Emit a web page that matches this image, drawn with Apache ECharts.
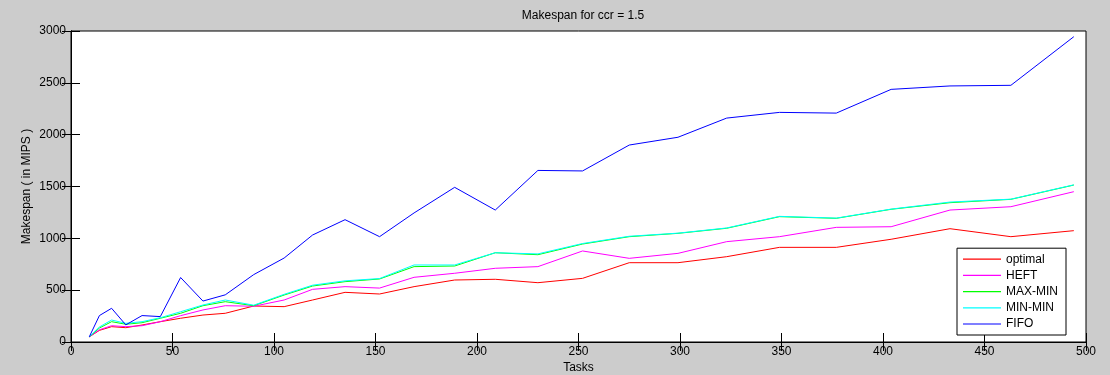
<!DOCTYPE html>
<html>
<head>
<meta charset="utf-8">
<style>
  html, body { margin: 0; padding: 0; background: #cccccc; }
  #chart { width: 1110px; height: 375px; }
</style>
<script src="https://cdn.jsdelivr.net/npm/echarts@6/dist/echarts.min.js"></script>
</head>
<body>
<div id="chart"></div>
<script>
// Number of tasks in each workflow run
const tasks = [9, 14, 20, 27, 35, 44, 54, 65, 76, 90, 105, 119, 135, 152, 169, 189, 209, 230, 252, 275, 299, 323, 349, 377, 404, 433, 463, 494];

// Makespan (in MIPS) per scheduling strategy
const optimal = [50, 112, 148, 138, 164, 196, 229, 260, 277, 347, 341, 405, 479, 463, 534, 598, 605, 572, 614, 765, 765, 823, 913, 913, 991, 1093, 1016, 1074];
const heft    = [50, 118, 157, 148, 157, 196, 254, 309, 350, 345, 405, 508, 534, 520, 624, 663, 711, 727, 878, 807, 855, 968, 1016, 1106, 1112, 1273, 1305, 1450];
const maxMin  = [50, 135, 196, 171, 186, 229, 277, 350, 389, 350, 453, 540, 582, 608, 727, 733, 861, 842, 945, 1016, 1048, 1097, 1209, 1193, 1280, 1344, 1376, 1514];
const minMin  = [50, 145, 212, 180, 196, 234, 292, 357, 405, 355, 460, 548, 590, 612, 743, 743, 861, 850, 950, 1020, 1050, 1100, 1212, 1195, 1282, 1350, 1378, 1516];
const fifo    = [50, 255, 325, 165, 255, 245, 622, 395, 455, 650, 810, 1032, 1180, 1016, 1245, 1492, 1273, 1655, 1650, 1900, 1975, 2160, 2215, 2208, 2437, 2470, 2476, 2945];

const seriesNames = ['optimal', 'HEFT', 'MAX-MIN', 'MIN-MIN', 'FIFO'];
const seriesValues = [optimal, heft, maxMin, minMin, fifo];
const seriesColors = ['#ff0000', '#ff00ff', '#00ff00', '#00ffff', '#0000ff'];

const FONT = 'Liberation Sans, Arial, sans-serif';

const chart = echarts.init(document.getElementById('chart'), null, { renderer: 'canvas' });

const tickStyle = { show: true, inside: true, length: 9, lineStyle: { color: '#000', width: 1 } };
const labelStyle = { color: '#000', fontFamily: FONT, fontSize: 12, formatter: v => String(v) };

chart.setOption({
  backgroundColor: '#cccccc',
  animation: false,
  title: {
    text: 'Makespan for ccr = 1.5',
    left: 578, textAlign: 'center', top: 5,
    textStyle: { color: '#000', fontFamily: FONT, fontSize: 12, fontWeight: 'normal' }
  },
  grid: {
    left: 71, right: 24, top: 31, bottom: 33,
    outerBoundsMode: 'none', containLabel: false,
    show: true, backgroundColor: '#ffffff', borderColor: '#000', borderWidth: 1
  },
  legend: {
    orient: 'vertical',
    right: 44, bottom: 40,
    data: seriesNames,
    icon: 'rect',
    itemWidth: 38, itemHeight: 1.2,
    itemGap: 2.2,
    padding: [4, 8, 4, 6],
    backgroundColor: '#ffffff',
    borderColor: '#000', borderWidth: 1, borderRadius: 0,
    textStyle: { color: '#000', fontFamily: FONT, fontSize: 12, lineHeight: 14 }
  },
  xAxis: [
    {
      type: 'value', min: 0, max: 500, interval: 50, position: 'bottom',
      name: 'Tasks', nameLocation: 'middle', nameGap: 20, nameMoveOverlap: false,
      nameTextStyle: { color: '#000', fontFamily: FONT, fontSize: 12 },
      axisLine: { show: true, lineStyle: { color: '#000' } },
      axisTick: tickStyle,
      axisLabel: Object.assign({ margin: 4 }, labelStyle),
      splitLine: { show: false }
    },
    {
      type: 'value', min: 0, max: 500, interval: 50, position: 'top',
      axisLine: { show: true, lineStyle: { color: '#000' } },
      axisTick: tickStyle, axisLabel: { show: false }, splitLine: { show: false }
    }
  ],
  yAxis: [
    {
      type: 'value', min: 0, max: 3000, interval: 500, position: 'left',
      name: 'Makespan ( in MIPS )', nameLocation: 'middle', nameGap: 38, nameMoveOverlap: false,
      nameTextStyle: { color: '#000', fontFamily: FONT, fontSize: 12 },
      axisLine: { show: true, lineStyle: { color: '#000' } },
      axisTick: tickStyle,
      axisLabel: Object.assign({ margin: 5 }, labelStyle),
      splitLine: { show: false }
    },
    {
      type: 'value', min: 0, max: 3000, interval: 500, position: 'right',
      axisLine: { show: true, lineStyle: { color: '#000' } },
      axisTick: tickStyle, axisLabel: { show: false }, splitLine: { show: false }
    }
  ],
  series: seriesNames.map((name, i) => ({
    name: name,
    type: 'line',
    xAxisIndex: 0, yAxisIndex: 0,
    data: tasks.map((t, j) => [t, seriesValues[i][j]]),
    showSymbol: false,
    symbol: 'none',
    lineStyle: { color: seriesColors[i], width: 1 },
    itemStyle: { color: seriesColors[i] },
    emphasis: { disabled: true }
  }))
});
</script>
</body>
</html>
